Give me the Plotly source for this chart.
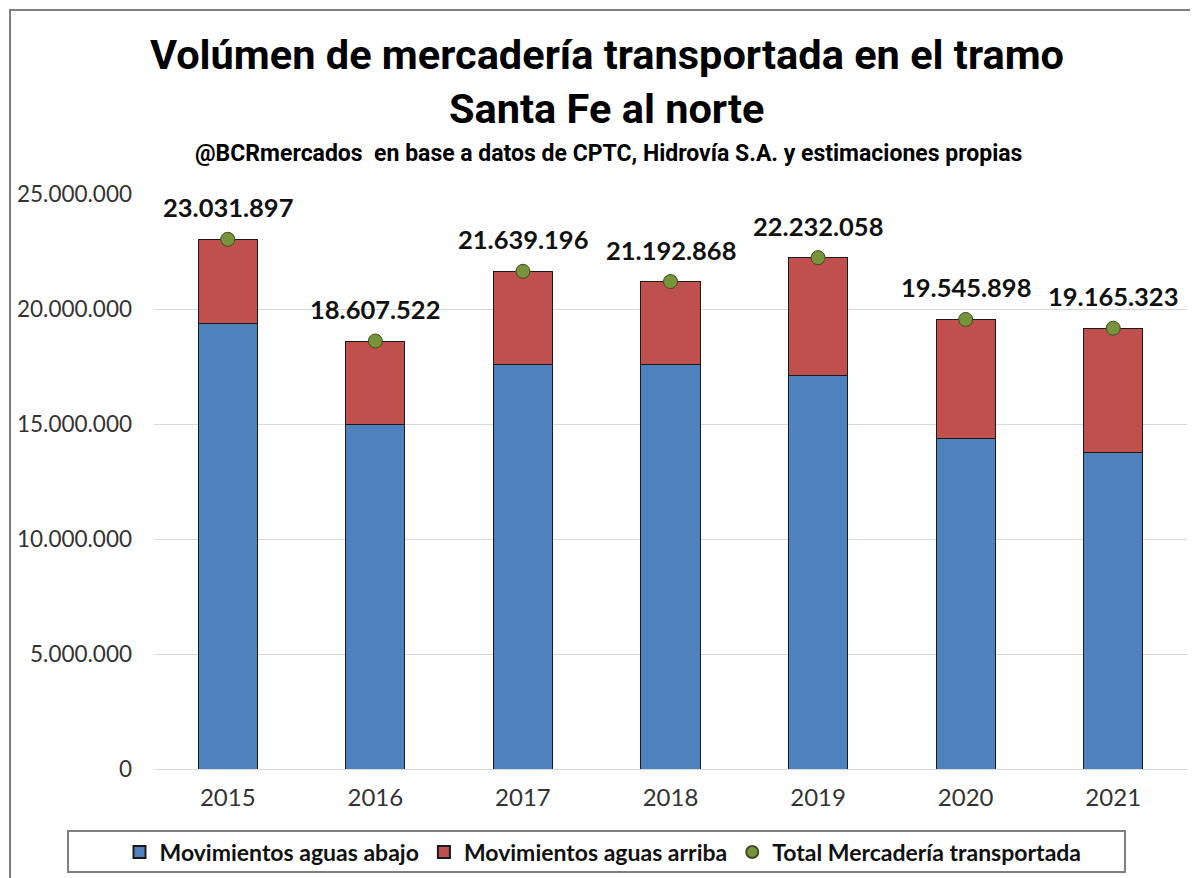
import plotly.graph_objects as go

years = ["2015", "2016", "2017", "2018", "2019", "2020", "2021"]
totals = [23031897, 18607522, 21639196, 21192868, 22232058, 19545898, 19165323]
aguas_abajo = [19350000, 15000000, 17570000, 17590000, 17090000, 14350000, 13770000]
aguas_arriba = [t - a for t, a in zip(totals, aguas_abajo)]
total_labels = ["23.031.897", "18.607.522", "21.639.196", "21.192.868", "22.232.058", "19.545.898", "19.165.323"]
y_ticks = [0, 5000000, 10000000, 15000000, 20000000, 25000000]
y_tick_labels = ["0", "5.000.000", "10.000.000", "15.000.000", "20.000.000", "25.000.000"]

# page body has an 8px margin; work in reference-image pixel coordinates
OFF = 8
W, H = 1198 - OFF, 878 - OFF
L, T = 154 - OFF, 194 - OFF
R = W - (1187 - OFF)
B = H - (769 - OFF)
pw, ph = W - L - R, H - T - B

def px(x):
    return (x - OFF - L) / pw

def py(y):
    return (H - B - (y - OFF)) / ph

body_font = "Lato, Calibri, Carlito, sans-serif"
title_font = "Roboto, 'DejaVu Sans', sans-serif"

fig = go.Figure()
fig.add_trace(go.Bar(
    x=years, y=aguas_abajo, name="Movimientos aguas abajo",
    marker=dict(color="#4F81BD", line=dict(color="#1a1a1a", width=1)),
))
fig.add_trace(go.Bar(
    x=years, y=aguas_arriba, name="Movimientos aguas arriba",
    marker=dict(color="#C0504D", line=dict(color="#1a1a1a", width=1)),
))
fig.add_trace(go.Scatter(
    x=years, y=totals, name="Total Mercadería transportada", mode="markers",
    marker=dict(color="#77933C", size=14, line=dict(color="#3d4d1e", width=1)),
))

annotations = []
for i, (t, lab) in enumerate(zip(totals, total_labels)):
    annotations.append(dict(
        x=i, y=t, xref="x", yref="y", text="<b>" + lab + "</b>", showarrow=False,
        yshift=32, font=dict(family=body_font, size=25.5, color="#111111"),
    ))

annotations += [
    dict(x=px(607), y=py(55), xref="paper", yref="paper", showarrow=False,
         text="<b>Volúmen de mercadería transportada en el tramo</b>",
         font=dict(family=title_font, size=41.5, color="#000000"), xanchor="center", yanchor="middle"),
    dict(x=px(607), y=py(108), xref="paper", yref="paper", showarrow=False,
         text="<b>Santa Fe al norte</b>",
         font=dict(family=title_font, size=41.5, color="#000000"), xanchor="center", yanchor="middle"),
    dict(x=px(608), y=py(153), xref="paper", yref="paper", showarrow=False,
         text="<b>@BCRmercados  en base a datos de CPTC, Hidrovía S.A. y estimaciones propias</b>",
         font=dict(family=title_font, size=23, color="#000000"), xanchor="center", yanchor="middle"),
]

shapes = [
    dict(type="rect", xref="paper", yref="paper", x0=px(10), x1=px(1260), y0=py(950), y1=py(10),
         line=dict(color="#7f7f7f", width=2), fillcolor="rgba(0,0,0,0)", layer="above"),
    dict(type="rect", xref="paper", yref="paper", x0=px(68), x1=px(1125), y0=py(872), y1=py(831),
         line=dict(color="#7f7f7f", width=2), fillcolor="rgba(0,0,0,0)"),
]

fig.update_layout(
    width=W, height=H,
    margin=dict(l=L, r=R, t=T, b=B, pad=0, autoexpand=False),
    barmode="stack", bargap=0.6,
    plot_bgcolor="white", paper_bgcolor="white",
    showlegend=True,
    legend=dict(orientation="h", x=px(603), y=py(852), xanchor="center", yanchor="middle",
                font=dict(family=body_font, size=23, color="#111111", weight="bold"),
                bgcolor="rgba(0,0,0,0)", traceorder="normal", itemsizing="constant"),
    xaxis=dict(type="category", range=[-0.5, len(years) - 0.5],
               tickfont=dict(family=body_font, size=24, color="#333333"), showgrid=False,
               showline=False, ticks="", ticklabelstandoff=12),
    yaxis=dict(range=[0, 25000000], tickvals=y_ticks, ticktext=y_tick_labels,
               tickfont=dict(family=body_font, size=22.5, color="#333333"),
               showgrid=True, gridcolor="#D9D9D9", gridwidth=1, zeroline=True,
               zerolinecolor="#D9D9D9", zerolinewidth=1, ticks="", ticklabelstandoff=21),
    annotations=annotations, shapes=shapes,
)

fig.write_html("out.html")
